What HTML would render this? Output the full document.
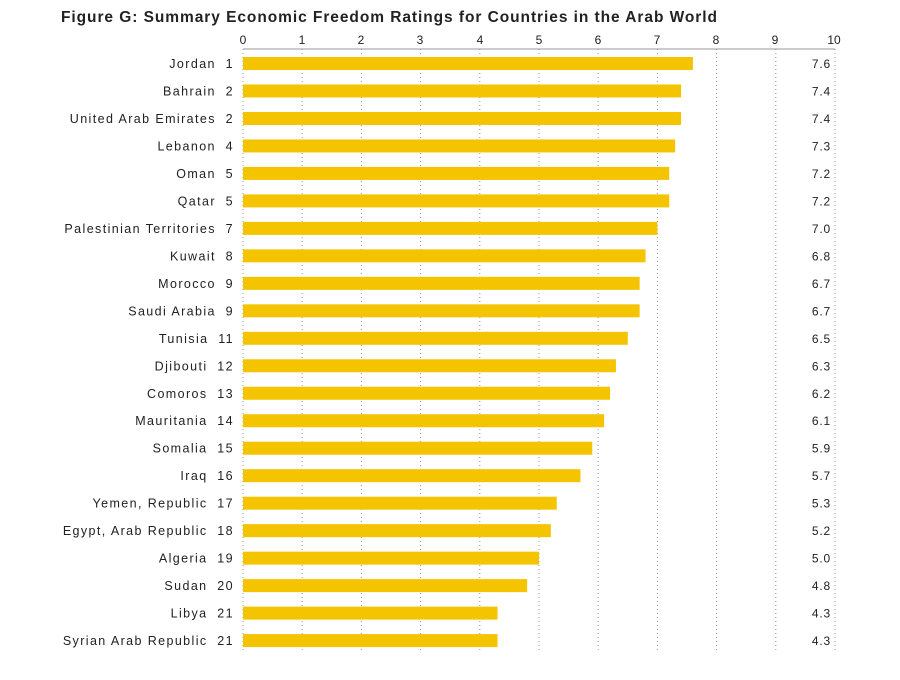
<!DOCTYPE html>
<html><head><meta charset="utf-8"><style>
body{margin:0;background:#fff}
svg text{font-family:"Liberation Sans",sans-serif;fill:#222}
</style></head><body>
<svg width="900" height="675" xmlns="http://www.w3.org/2000/svg">
<text x="61" y="22" font-size="15.5" font-weight="bold" fill="#3a3a3a" textLength="656" lengthAdjust="spacing">Figure G: Summary Economic Freedom Ratings for Countries in the Arab World</text>
<line x1="243" y1="49" x2="835" y2="49" stroke="#999" stroke-width="1"/>
<g stroke="#999" stroke-width="1" stroke-dasharray="1,3">
<line x1="243" y1="49" x2="243" y2="650"/><line x1="302.2" y1="49" x2="302.2" y2="650"/><line x1="361.4" y1="49" x2="361.4" y2="650"/><line x1="420.6" y1="49" x2="420.6" y2="650"/><line x1="479.8" y1="49" x2="479.8" y2="650"/><line x1="539" y1="49" x2="539" y2="650"/><line x1="598.2" y1="49" x2="598.2" y2="650"/><line x1="657.4" y1="49" x2="657.4" y2="650"/><line x1="716.6" y1="49" x2="716.6" y2="650"/><line x1="775.8" y1="49" x2="775.8" y2="650"/><line x1="835" y1="49" x2="835" y2="650"/>
</g>
<g font-size="12" text-anchor="middle">
<text x="243" y="44">0</text><text x="302" y="44">1</text><text x="361" y="44">2</text><text x="420" y="44">3</text><text x="480" y="44">4</text><text x="539" y="44">5</text><text x="598" y="44">6</text><text x="657" y="44">7</text><text x="716" y="44">8</text><text x="775" y="44">9</text><text x="834" y="44">10</text>
</g>
<g id="bars"></g>
</svg>
<script>
var d=[["Jordan  1",7.6],["Bahrain  2",7.4],["United Arab Emirates  2",7.4],["Lebanon  4",7.3],["Oman  5",7.2],["Qatar  5",7.2],["Palestinian Territories  7",7.0],["Kuwait  8",6.8],["Morocco  9",6.7],["Saudi Arabia  9",6.7],["Tunisia  11",6.5],["Djibouti  12",6.3],["Comoros  13",6.2],["Mauritania  14",6.1],["Somalia  15",5.9],["Iraq  16",5.7],["Yemen, Republic  17",5.3],["Egypt, Arab Republic  18",5.2],["Algeria  19",5.0],["Sudan  20",4.8],["Libya  21",4.3],["Syrian Arab Republic  21",4.3]];
var g=document.getElementById("bars"),s="";
d.forEach(function(r,i){var c=63.5+i*27.48;
s+='<rect x="243" y="'+(c-6.5)+'" width="'+(r[1]*59.2)+'" height="13" fill="#f5c400"/>';
s+='<text x="234" y="'+(c+4.5)+'" font-size="12.5" letter-spacing="1.4" text-anchor="end" xml:space="preserve">'+r[0]+'</text>';
s+='<text x="831" y="'+(c+4.5)+'" font-size="12" letter-spacing="0.8" text-anchor="end">'+r[1].toFixed(1)+'</text>';});
g.innerHTML=s;
</script>
</body></html>
